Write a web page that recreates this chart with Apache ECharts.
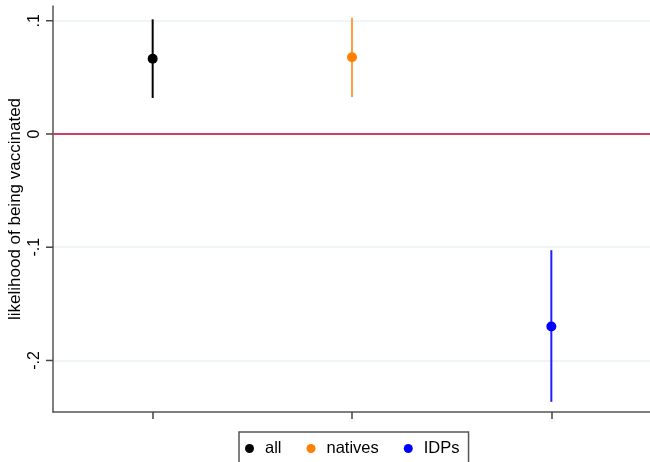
<!DOCTYPE html>
<html><head><meta charset="utf-8">
<script src="https://cdn.jsdelivr.net/npm/echarts@6/dist/echarts.min.js"></script>
<style>html,body{margin:0;padding:0;background:#fff}#c{width:650px;height:462px}</style>
</head><body><div id="c"></div>
<script>
var groups = ['all', 'natives', 'IDPs'];
var estimates = [0.0665, 0.0677, -0.170];
var ciLow = [0.0318, 0.0327, -0.2365];
var ciHigh = [0.1012, 0.1027, -0.1026];
var dotColors = ['#000000', '#ff8000', '#0000ff'];
var barColors = ['#000000', '#ffa040', '#2020ff'];
var yTicks = [0.1, 0, -0.1, -0.2];
var yTickLabels = ['.1', '0', '-.1', '-.2'];
var yMin = -0.2455, yMax = 0.113;

var chart = echarts.init(document.getElementById('c'), null, {renderer: 'canvas'});
var series = [];
groups.forEach(function (g, i) {
  series.push({
    name: g,
    type: 'custom',
    itemStyle: {color: dotColors[i]},
    data: [[i, ciLow[i], ciHigh[i]]],
    renderItem: function (params, api) {
      var p1 = api.coord([api.value(0), api.value(1)]);
      var p2 = api.coord([api.value(0), api.value(2)]);
      return {type: 'line', shape: {x1: p1[0], y1: p1[1], x2: p2[0], y2: p2[1]},
        style: {stroke: barColors[i], lineWidth: 2}};
    },
    z: 3
  });
  series.push({
    name: g,
    type: 'scatter',
    symbol: 'circle',
    symbolSize: 10,
    itemStyle: {color: dotColors[i], opacity: 1},
    data: [[i, estimates[i]]],
    z: 4
  });
});
series.push({
  type: 'line', data: [], silent: true,
  markLine: {symbol: 'none', silent: true, label: {show: false},
    lineStyle: {color: '#cf3f66', width: 2, type: 'solid'},
    data: [{yAxis: 0}]},
  z: 2
});
// y-axis tick marks (outside the plot, placed through the axes' scales)
series.push({
  type: 'custom', silent: true, clip: false,
  data: yTicks.map(function (v) { return [0, v]; }),
  renderItem: function (params, api) {
    var p = api.coord([api.value(0), api.value(1)]);
    var band = api.size([1, 0])[0];
    var x0 = p[0] - band / 2;
    return {type: 'line', shape: {x1: x0 - 7, y1: p[1], x2: x0, y2: p[1]},
      style: {stroke: '#444', lineWidth: 1.5}};
  },
  z: 5
});

chart.setOption({
  animation: false,
  grid: {left: 53, right: -1, top: 6, bottom: 50, containLabel: false, outerBoundsMode: 'none'},
  legend: {
    data: groups.map(function (g, i) { return {name: g, icon: 'circle', itemStyle: {color: dotColors[i]}}; }),
    left: 239, top: 432,
    orient: 'horizontal',
    itemWidth: 9, itemHeight: 9, itemGap: 25,
    padding: [8, 9, 30, 6],
    borderColor: '#555', borderWidth: 1.5, borderRadius: 0,
    textStyle: {fontFamily: 'Liberation Sans, Arial', fontSize: 16.5, color: '#000', padding: [0, 0, 0, 6]}
  },
  xAxis: {
    type: 'category', data: groups, boundaryGap: true,
    axisLine: {onZero: false, lineStyle: {color: '#555', width: 1.5}},
    axisTick: {show: true, alignWithLabel: true, length: 7, lineStyle: {color: '#444', width: 1.5}},
    axisLabel: {show: false},
    splitLine: {show: false}
  },
  yAxis: {
    type: 'value', min: yMin, max: yMax,
    name: 'likelihood of being vaccinated', nameLocation: 'middle', nameGap: 29, nameMoveOverlap: false,
    nameTextStyle: {fontFamily: 'Liberation Sans, Arial', fontSize: 17, color: '#000'},
    axisLine: {show: true, onZero: false, lineStyle: {color: '#555', width: 1.5}},
    axisTick: {show: false, customValues: yTicks},
    axisLabel: {rotate: 90, margin: 10, fontFamily: 'Liberation Sans, Arial', fontSize: 16, color: '#000',
      customValues: yTicks,
      formatter: function (v) { var k = yTicks.findIndex(function (t) { return Math.abs(t - v) < 1e-9; }); return k >= 0 ? yTickLabels[k] : ''; }},
    splitLine: {show: true, lineStyle: {color: '#eaf2f3', width: 1.5}}
  },
  series: series
});
</script></body></html>
